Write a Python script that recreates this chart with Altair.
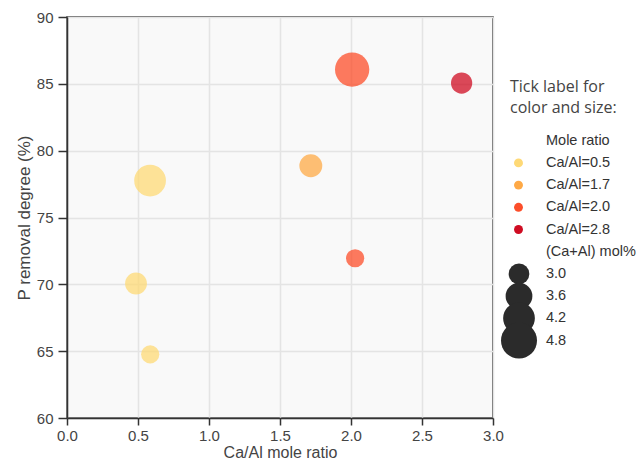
import altair as alt
import pandas as pd

# ---- data ----
ca_al_ratio = [0.585, 1.717, 2.008, 2.779, 2.029, 0.486, 0.586]
p_removal = [77.76, 78.87, 86.07, 85.06, 71.95, 70.06, 64.76]
ratio_group = ["Ca/Al=0.5", "Ca/Al=1.7", "Ca/Al=2.0", "Ca/Al=2.8",
               "Ca/Al=2.0", "Ca/Al=0.5", "Ca/Al=0.5"]
mol_pct = [4.2, 3.2, 4.55, 3.05, 2.8, 3.1, 2.8]

color_labels = ["Ca/Al=0.5", "Ca/Al=1.7", "Ca/Al=2.0", "Ca/Al=2.8"]
color_values = ["#fed976", "#fea946", "#fc4e2a", "#cf0c22"]
size_ticks = [3.0, 3.6, 4.2, 4.8]
size_tick_labels = ["3.0", "3.6", "4.2", "4.8"]

legend_heading = ["Tick label for", "color and size:"]
color_title = "Mole ratio"
size_title = "(Ca+Al) mol%"
x_title = "Ca/Al mole ratio"
y_title = "P removal degree (%)"
x_ticks = [0.0, 0.5, 1.0, 1.5, 2.0, 2.5, 3.0]
y_ticks = [60, 65, 70, 75, 80, 85, 90]

# ---- tables ----
pts = pd.DataFrame({"ratio": ca_al_ratio, "removal": p_removal,
                    "group": ratio_group, "mol": mol_pct})
color_leg = pd.DataFrame({"row": [1, 2, 3, 4], "group": color_labels})
size_leg = pd.DataFrame({"row": [6, 7, 8, 9], "mol": size_ticks})
leg_text = pd.DataFrame({
    "row": list(range(10)),
    "label": [color_title] + color_labels + [size_title] + size_tick_labels,
})

color_enc = alt.Color("group:N", scale=alt.Scale(domain=color_labels, range=color_values), legend=None)
size_enc = alt.Size("mol:Q", scale=alt.Scale(domain=[3.0, 4.8], range=[428, 1296], zero=False), legend=None)
leg_y = alt.Scale(domain=[0, 9], range=[123.7, 323.5], zero=False, nice=False)

points = alt.Chart(pts).mark_circle(opacity=0.75).encode(
    x=alt.X("ratio:Q", title=x_title,
            scale=alt.Scale(domain=[0, 3], nice=False, zero=False),
            axis=alt.Axis(values=x_ticks, format=".1f", tickSize=7, labelPadding=3,
                          labelFlush=False, titlePadding=1, titleFontSize=16)),
    y=alt.Y("removal:Q", title=y_title,
            scale=alt.Scale(domain=[60, 90], nice=False, zero=False),
            axis=alt.Axis(values=y_ticks, format="d", tickSize=9, labelPadding=5,
                          titlePadding=3)),
    color=color_enc,
    size=size_enc,
)

color_syms = alt.Chart(color_leg).mark_circle(size=80, opacity=1).encode(
    x=alt.value(451.5),
    y=alt.Y("row:Q", scale=leg_y, axis=None),
    color=color_enc,
)

size_syms = alt.Chart(size_leg).mark_circle(opacity=1, color="#2b2b2b").encode(
    x=alt.value(452),
    y=alt.Y("row:Q", scale=leg_y, axis=None),
    size=size_enc,
)

labels = alt.Chart(leg_text).mark_text(
    align="left", baseline="middle", font="Liberation Sans", fontSize=14.5, color="#333"
).encode(
    x=alt.value(479),
    y=alt.Y("row:Q", scale=leg_y, axis=None),
    text="label:N",
)

heading = alt.Chart(pd.DataFrame({"k": [0]})).mark_text(
    align="left", baseline="top", font="Open Sans", fontSize=16, lineHeight=21, color="#444"
).encode(
    x=alt.value(443),
    y=alt.value(62),
    text=alt.value(legend_heading),
)

chart = alt.layer(points, color_syms, size_syms, labels, heading).resolve_scale(
    y="independent"
).properties(
    width=426, height=401, autosize="none",
    padding={"left": 59, "top": 9, "right": 143, "bottom": 42},
).configure_view(
    fill="#f9f9f9", stroke="#333", strokeWidth=1.5
).configure_axis(
    domainColor="#333", domainWidth=1.5, tickColor="#333", tickWidth=1.5,
    gridColor="#e4e4e4", gridWidth=1.5,
    labelFont="Liberation Sans", labelFontSize=15, labelColor="#444",
    titleFont="Liberation Sans", titleFontSize=17, titleColor="#444",
    titleFontWeight="normal",
)

chart.save("out.html", embed_options={"renderer": "svg", "actions": False})
